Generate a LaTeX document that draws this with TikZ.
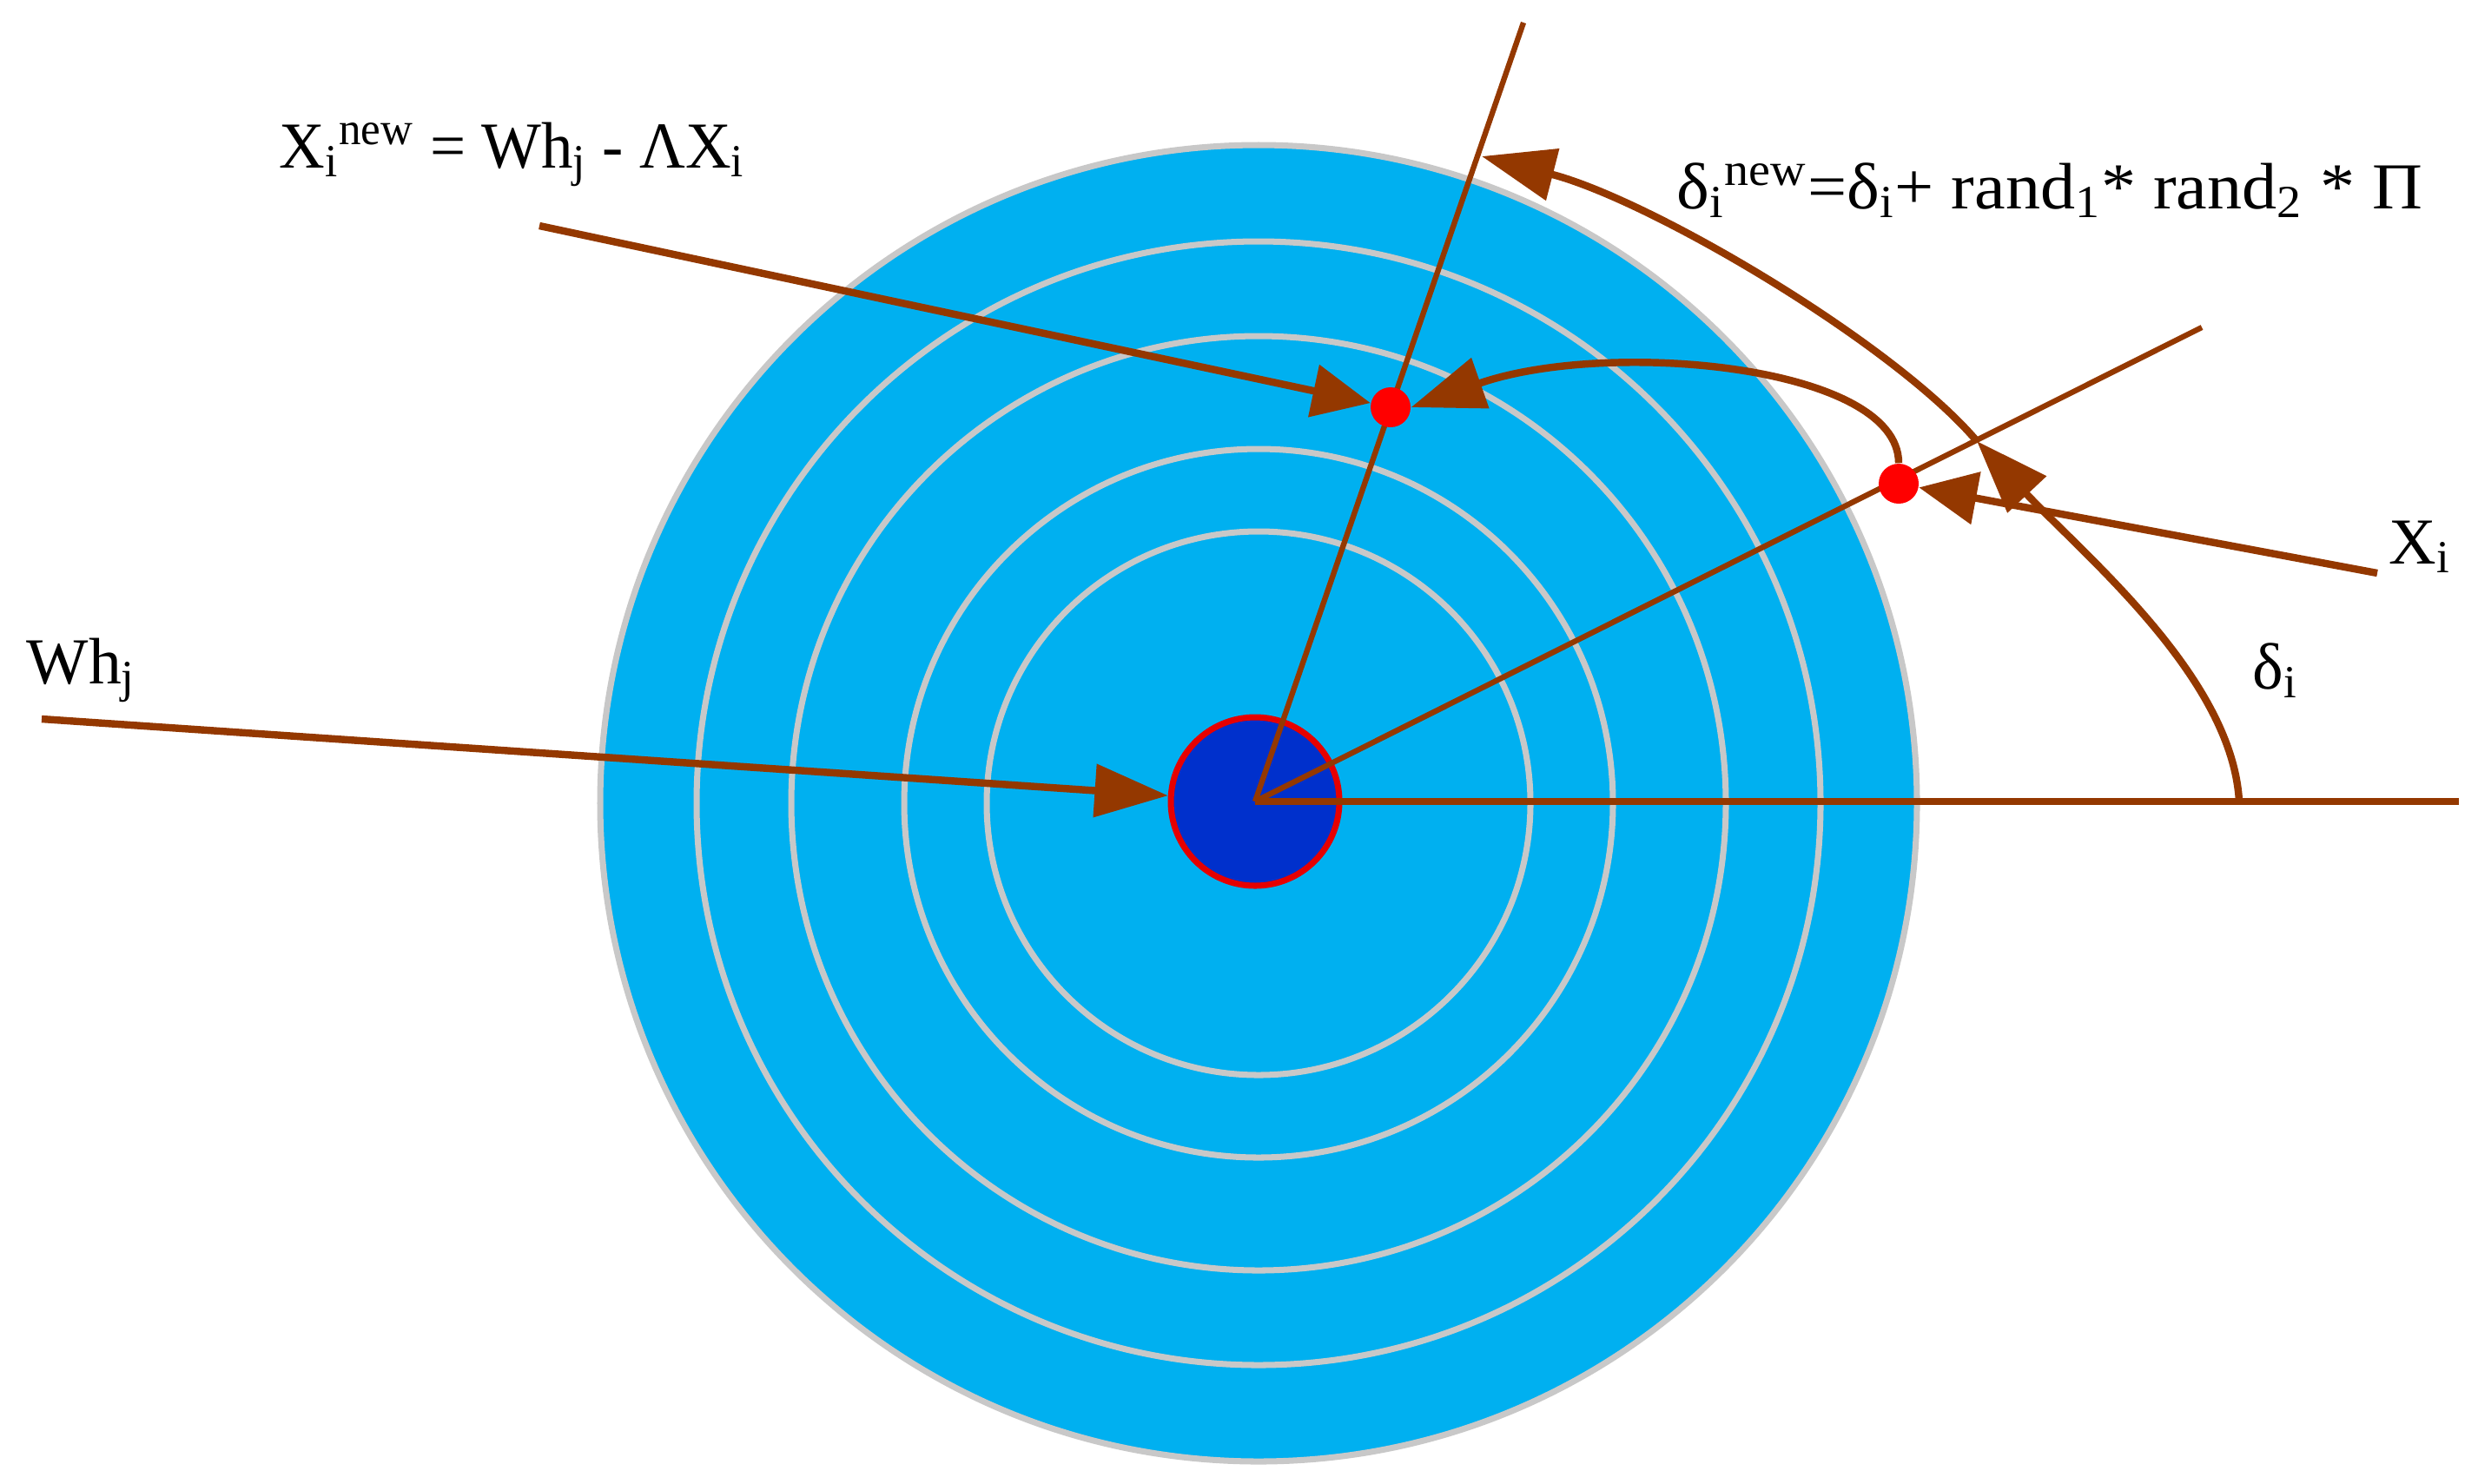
\documentclass[tikz,border=0pt]{standalone}
\usepackage{fontspec}
\setmainfont{Liberation Serif}
\usetikzlibrary{arrows.meta}
\definecolor{diskblue}{RGB}{0,176,240}
\definecolor{coreblue}{RGB}{0,48,204}
\definecolor{ringgray}{RGB}{200,200,200}
\definecolor{wirebrown}{RGB}{148,56,0}
\definecolor{dotred}{RGB}{255,0,0}
\definecolor{rimred}{RGB}{230,0,0}

\begin{document}
\begin{tikzpicture}[
  ring/.style={draw=ringgray, line width=2pt},
  wire/.style={draw=wirebrown, line width=2.4pt},
  ray/.style={draw=wirebrown, line width=1.8pt},
  arr/.style={wire, -{Triangle[length=19pt, width=17pt]}},
  arrlong/.style={wire, -{Triangle[length=24pt, width=17pt]}},
  dot/.style={circle, fill=dotred, inner sep=0pt, minimum size=4.6mm},
  lbl/.style={font=\fontsize{21.5}{26}\selectfont, inner sep=0pt, anchor=base west}
]
\useasboundingbox (0,0) rectangle (28.53,-17.08);

\fill[diskblue] (14.49,-9.25) circle[radius=7.58];
\draw[ring] (14.49,-9.25) circle[radius=7.58];
\foreach \r in {6.47,5.38,4.08,3.13}
  \draw[ring] (14.49,-9.25) circle[radius=\r];

\node[circle, fill=coreblue, draw=rimred, line width=2pt, inner sep=0pt, minimum size=19.4mm] (core) at (14.45,-9.23) {};

\coordinate (r1end) at (17.54,-0.26);
\coordinate (r2end) at (25.35,-3.77);
\coordinate (hend) at (28.31,-9.23);
\coordinate (whjstart) at (0.48,-8.28);
\coordinate (xnewstart) at (6.21,-2.60);
\coordinate (xistart) at (27.37,-6.60);
\coordinate (deltabase) at (25.78,-9.23);
\coordinate (deltaold) at (22.76,-5.08);
\coordinate (deltanew) at (17.06,-1.80);

\draw[ray] (core.center) -- (r1end);
\draw[ray] (core.center) -- (r2end);
\draw[wire] (core.center) -- (hend);

\node[dot] (xnew) at (16.01,-4.69) {};
\node[dot] (xold) at (21.86,-5.57) {};

\draw[arrlong] (whjstart) -- (core);
\draw[arr] (xnewstart) -- (xnew);
\draw[arr] (xistart) -- (xold);
\draw[arrlong] (xold.north) .. controls (21.86,-4.20) and (18.50,-3.90) .. (xnew.east);
\draw[arrlong] (deltabase) .. controls (25.70,-7.80) and (24.00,-6.40) .. (deltaold);
\draw[arrlong] (deltaold) .. controls (21.80,-3.95) and (19.00,-2.30) .. (deltanew);

\node[lbl, xscale=0.965, transform shape] (xnewlbl) at (3.21,-1.93) {X\textsubscript{i}\textsuperscript{new} = Wh\textsubscript{j} - ΛX\textsubscript{i}};
\node[lbl, xscale=1.06, transform shape] (deltanewlbl) at (19.30,-2.40) {δ\textsubscript{i}\textsuperscript{new}=δ\textsubscript{i}+ rand\textsubscript{1}* rand\textsubscript{2} * Π};
\node[lbl] (whjlbl) at (0.30,-7.87) {Wh\textsubscript{j}};
\node[lbl] (xilbl) at (27.50,-6.49) {X\textsubscript{i}};
\node[lbl] (deltalbl) at (25.93,-7.93) {δ\textsubscript{i}};
\end{tikzpicture}
\end{document}
